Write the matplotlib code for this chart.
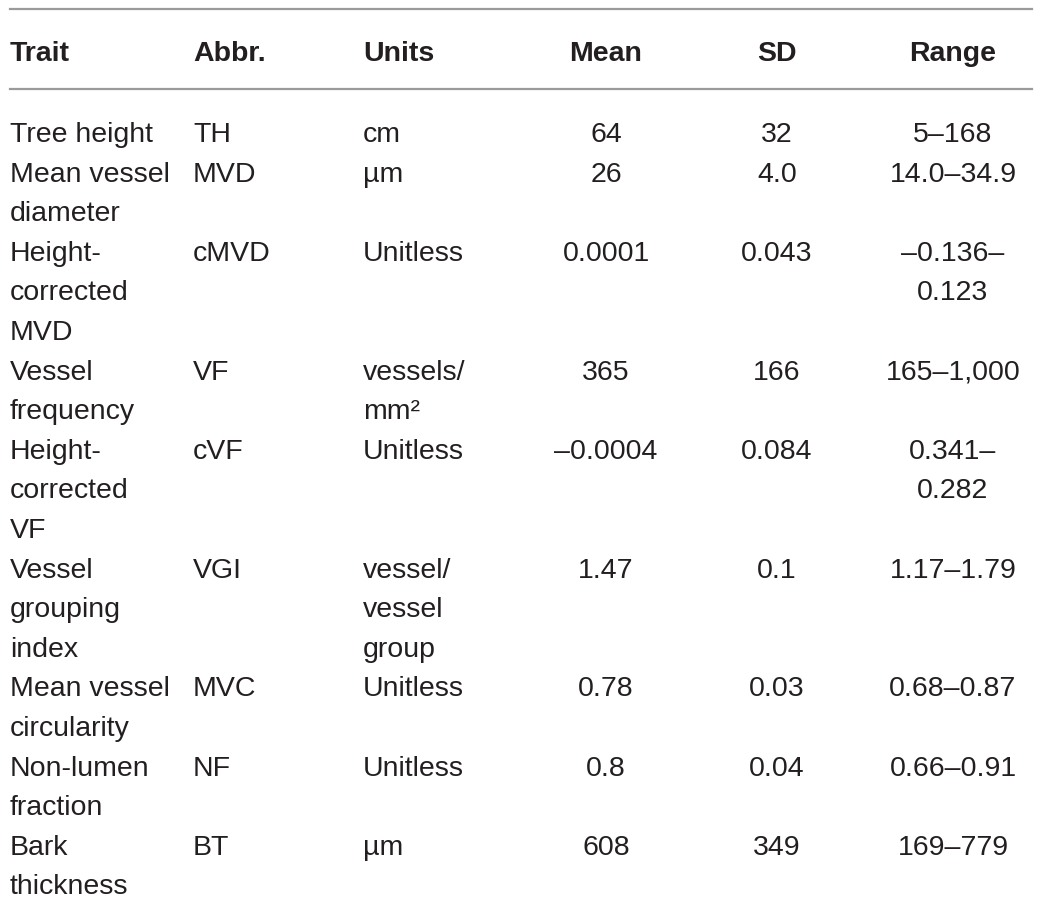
import matplotlib.pyplot as plt

headers = ["Trait", "Abbr.", "Units", "Mean", "SD", "Range"]
traits = ["Tree height", "Mean vessel\ndiameter", "Height-\ncorrected\nMVD",
          "Vessel\nfrequency", "Height-\ncorrected\nVF", "Vessel\ngrouping\nindex",
          "Mean vessel\ncircularity", "Non-lumen\nfraction", "Bark\nthickness"]
abbrs = ["TH", "MVD", "cMVD", "VF", "cVF", "VGI", "MVC", "NF", "BT"]
units = ["cm", "µm", "Unitless", "vessels/\nmm²", "Unitless", "vessel/\nvessel\ngroup",
         "Unitless", "Unitless", "µm"]
means = ["64", "26", "0.0001", "365", "–0.0004", "1.47", "0.78", "0.8", "608"]
sds = ["32", "4.0", "0.043", "166", "0.084", "0.1", "0.03", "0.04", "349"]
ranges = ["5–168", "14.0–34.9", "–0.136–\n0.123", "165–1,000", "0.341–\n0.282",
          "1.17–1.79", "0.68–0.87", "0.66–0.91", "169–779"]

plt.rcParams['font.family'] = ['Liberation Sans', 'DejaVu Sans']
fig = plt.figure(figsize=(10.43, 9.04), dpi=100)
ax = fig.add_axes([0, 0, 1, 1])
ax.set_xlim(0, 1043)
ax.set_ylim(904, 0)
ax.axis('off')

col_x = [10, 193, 363, 606, 777, 953]
col_ha = ['left', 'left', 'left', 'center', 'center', 'center']
text_color = '#231f20'
fs = 20.5
line_h = 39.6

ax.plot([10, 1032], [10, 10], color='#9a9a9a', lw=1.6)
ax.plot([10, 1032], [90, 90], color='#9a9a9a', lw=1.6)

for x, ha, h in zip(col_x, col_ha, headers):
    ax.text(x, 61, h, ha=ha, va='baseline', fontsize=fs, fontweight='bold',
            color=text_color)

y = 142
for row in zip(traits, abbrs, units, means, sds, ranges):
    nlines = max(cell.count('\n') + 1 for cell in row)
    for x, ha, cell in zip(col_x, col_ha, row):
        for i, part in enumerate(cell.split('\n')):
            ax.text(x, y + i * line_h, part, ha=ha, va='baseline', fontsize=fs,
                    color=text_color)
    y += nlines * line_h

fig.savefig('out.png', dpi=100)
